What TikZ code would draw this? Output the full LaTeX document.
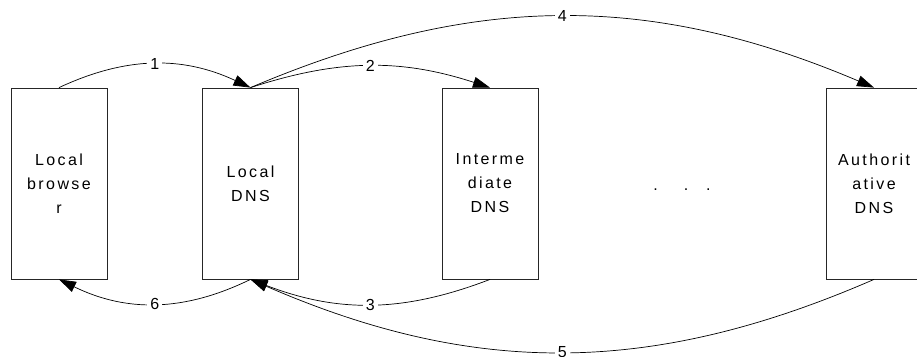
\documentclass[tikz,border=0pt]{standalone}
\usepackage{fontspec}
\setmainfont{Liberation Sans}
\newfontfamily\hostfont[LetterSpace=15]{Liberation Sans}
\usetikzlibrary{arrows.meta}

\begin{document}
\begin{tikzpicture}
	[x=1pt, y=-1pt,
	host/.style={draw=black!85, line width=0.8pt, minimum width=96pt, minimum height=191pt, inner sep=0pt, align=center, font=\hostfont\fontsize{16}{24}\selectfont},
	hop/.style={line width=0.7pt, -{Triangle[length=17pt,width=11pt]}},
	num/.style={fill=white, inner sep=3pt, font=\fontsize{16}{18}\selectfont}]
	\useasboundingbox (0,0) rectangle (917,356);
  	\node[host] (browser) at (59,183.5) {Local\\browse\\r};
  	\node[host] (localdns) at (250.5,183.5) {Local\\DNS};
  	\node[host] (middns) at (490,183.5) {Interme\\diate\\DNS};
  	\node[host] (authdns) at (874,183.5) {Authorit\\ative\\DNS};
  	\node[anchor=base, font=\fontsize{16}{18}\selectfont] (more) at (682,190) {.\hspace{26pt}.\hspace{18pt}.};
	\draw[hop] (browser.north) to[bend left=25] node[num]{1} (localdns.north);
	\draw[hop] (localdns.north) to[bend left=18] node[num]{2} (middns.north);
	\draw[hop] (middns.south) to[bend left=21] node[num]{3} (localdns.south);
	\draw[hop] (localdns.north) to[bend left=23] node[num]{4} (authdns.north);
	\draw[hop] (authdns.south) to[bend left=23.5] node[num]{5} (localdns.south);
	\draw[hop] (localdns.south) to[bend left=26] node[num]{6} (browser.south);
\end{tikzpicture}
\end{document}
